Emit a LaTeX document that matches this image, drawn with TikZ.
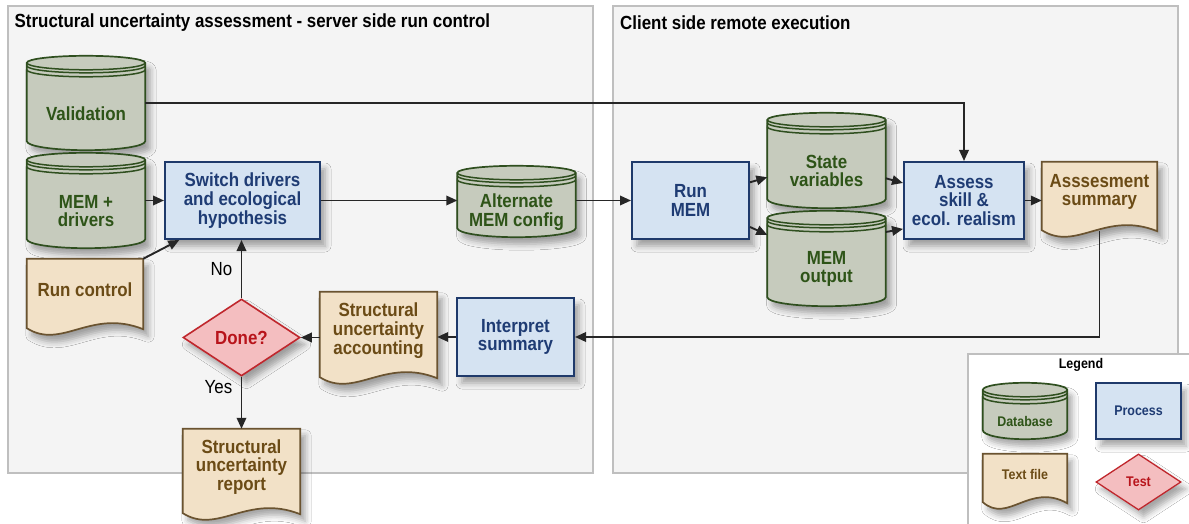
\documentclass[tikz,border=0pt]{standalone}
\usepackage{fontspec}
\usepackage{tikz}
\usetikzlibrary{arrows.meta,shapes.geometric,calc,shadows.blur}

\newfontfamily\diafont[FakeStretch=0.89]{Liberation Sans}

\definecolor{dbfill}{HTML}{C6CBBD}
\definecolor{dbline}{HTML}{2F4F1F}
\definecolor{dbtext}{HTML}{2E5418}
\definecolor{procfill}{HTML}{D5E3F2}
\definecolor{procline}{HTML}{1F3A6B}
\definecolor{proctext}{HTML}{1F3C74}
\definecolor{docfill}{HTML}{F2E1C7}
\definecolor{docline}{HTML}{6A5330}
\definecolor{doctext}{HTML}{6B4B16}
\definecolor{testfill}{HTML}{F4BEC0}
\definecolor{testline}{HTML}{C0272D}
\definecolor{testtext}{HTML}{B8141B}
\definecolor{panelfill}{HTML}{F4F4F4}
\definecolor{panelline}{HTML}{BFBFBF}

\pgfdeclarelayer{panel}
\pgfdeclarelayer{shape}
\pgfsetlayers{panel,shape,main}

\tikzset{
  drop/.style={blur shadow={shadow xshift=5pt,shadow yshift=-7pt,shadow blur radius=6pt,shadow opacity=35}},
  bigtxt/.style={font=\diafont\bfseries\fontsize{19}{18.7}\selectfont},
  smalltxt/.style={font=\diafont\bfseries\fontsize{14}{15}\selectfont},
  boxtxt/.style={bigtxt, align=center, inner sep=0pt, minimum width=117pt},
  dbtxt/.style={boxtxt, text=dbtext, minimum width=118pt},
  doctxt/.style={boxtxt, text=doctext},
  proc/.style={boxtxt, draw=procline, fill=procfill, line width=2pt, text=proctext, minimum height=77pt, drop},
  test/.style={boxtxt, diamond, aspect=1.5, draw=testline, fill=testfill, line width=1.6pt, text=testtext, minimum height=77pt, drop},
  conn/.style={line width=1.9pt, draw=black!85, -{Triangle[length=11pt,width=9.5pt]}},
  yesno/.style={font=\diafont\fontsize{19}{20}\selectfont, text=black},
  ttl/.style={anchor=west, inner sep=0pt, font=\diafont\bfseries\fontsize{19}{20}\selectfont},
}

% cylinder round a named node
\newcommand{\dbshape}[1]{%
  \begin{pgfonlayer}{shape}
    \path[draw=dbline, line width=1.7pt, fill=dbfill, drop]
      let \p1=(#1.north west), \p2=(#1.south east), \n1={0.5*(\x2-\x1)} in
      (\x1,\y1+14pt) -- (\x1,\y2+9pt)
      arc[start angle=180, end angle=360, x radius=\n1, y radius=9pt]
      -- (\x2,\y1+14pt)
      arc[start angle=0, end angle=180, x radius=\n1, y radius=7pt] -- cycle;
    \path[draw=dbline, line width=1.5pt]
      let \p1=(#1.north west), \p2=(#1.south east), \n1={0.5*(\x2-\x1)} in
      (\x1,\y1+14pt) arc[start angle=180, end angle=360, x radius=\n1, y radius=7pt]
      (\x1,\y1+11pt) arc[start angle=180, end angle=360, x radius=\n1, y radius=7pt]
      (\x1,\y1+7pt) arc[start angle=180, end angle=360, x radius=\n1, y radius=7pt];
  \end{pgfonlayer}}

% text file round a named node
\newcommand{\docshape}[1]{%
  \begin{pgfonlayer}{shape}
    \path[draw=docline, line width=1.7pt, fill=docfill, drop]
      (#1.north west) -- ($(#1.south west)+(0,-8)$)
      .. controls ($(#1.south west)!0.3!(#1.south east)+(0,-30)$)
      and ($(#1.south west)!0.55!(#1.south east)+(0,12)$)
      .. ($(#1.south east)+(0,-9)$) -- (#1.north east) -- cycle;
  \end{pgfonlayer}}

\begin{document}
\begin{tikzpicture}[x=1pt,y=1pt]
\useasboundingbox (0,0) rectangle (1189,-524);

\node[ttl] (lefttitle) at (14.5,-23) {Structural uncertainty assessment - server side run control};
\node[ttl] (righttitle) at (620,-23) {Client side remote execution};

% server side
\node[dbtxt, minimum height=73pt] (val) at (86,-113.5) {Validation};
\node[dbtxt, minimum height=74pt] (memdrv) at (86,-211) {MEM +\\drivers};
\node[dbtxt, minimum height=50pt] (altcfg) at (516.5,-212) {Alternate\\MEM config};
\node[proc, minimum width=155pt] (switch) at (242.5,-200.5) {Switch drivers\\and ecological\\hypothesis};
\node[doctxt, minimum width=116pt, minimum height=61pt] (runctl) at (85,-289.5) {Run control};
\node[test] (done) at (241.5,-337.5) {Done?};
\node[doctxt, minimum height=77pt] (account) at (378.5,-330.5) {Structural\\uncertainty\\accounting};
\node[proc, minimum height=78pt] (interp) at (515.5,-337) {Interpret\\summary};
\node[doctxt, minimum height=76pt] (report) at (241.5,-467) {Structural\\uncertainty\\report};

% client side
\node[proc] (runmem) at (690.5,-200.5) {Run\\MEM};
\node[dbtxt, minimum height=74pt] (statev) at (826.5,-171) {State\\variables};
\node[dbtxt, minimum height=74pt] (memout) at (826.5,-269) {MEM\\output};
\node[proc, minimum width=120pt] (assess) at (964,-200.5) {Assess\\skill \&\\ecol. realism};
\node[doctxt, minimum width=115pt, minimum height=60pt] (summary) at (1099.5,-192) {Asssesment\\summary};

% legend
\node[smalltxt] (legtitle) at (1081,-365) {Legend};
\node[dbtxt, smalltxt, minimum width=84pt, minimum height=35pt] (legdb) at (1025,-421.5) {Database};
\node[proc, smalltxt, line width=1.5pt, minimum width=85pt, minimum height=56pt] (legproc) at (1138.5,-411) {Process};
\node[doctxt, smalltxt, minimum width=84pt, minimum height=40pt] (legdoc) at (1025,-474) {Text file};
\node[test, smalltxt, line width=1.3pt, minimum width=85pt, minimum height=56pt] (legtest) at (1138.5,-482) {Test};

\dbshape{val}
\dbshape{memdrv}
\dbshape{altcfg}
\dbshape{statev}
\dbshape{memout}
\dbshape{legdb}
\docshape{runctl}
\docshape{account}
\docshape{report}
\docshape{summary}
\docshape{legdoc}

\draw[conn] (val.10) -| (assess.north);
\draw[conn] (switch.west -| memdrv.east) -- (switch.west);
\draw[conn] (runctl.north east) -- (switch.212);
\draw[conn] (done.north) -- (done.north |- switch.south) node[yesno, midway, left=5pt] (nolabel) {No};
\draw[conn] (switch.east) -- (switch.east -| altcfg.west);
\draw[conn] (runmem.west -| altcfg.east) -- (runmem.west);
\draw[conn] (runmem.17) -- (statev.186);
\draw[conn] (runmem.-24) -- (memout.150);
\draw[conn] (statev.-7) -- (assess.164);
\draw[conn] (memout.32) -- (assess.205);
\draw[conn] (assess.east) -- (assess.east -| summary.west);
\draw[conn, shorten <=9pt] (summary.south) |- (interp.east);
\draw[conn] (interp.west) -- (interp.west -| account.east);
\draw[conn] (done.east -| account.west) -- (done.east);
\draw[conn] (done.south) -- (done.south |- report.north) node[yesno, pos=0.2, left=5pt] (yeslabel) {Yes};

% panels last: no shadow may come after them
\begin{pgfonlayer}{panel}
  \fill[white] (0,0) rectangle (1189,-524);
  \filldraw[fill=panelfill, draw=panelline, line width=1.5pt] (8,-6) rectangle (593,-473);
  \filldraw[fill=panelfill, draw=panelline, line width=1.5pt] (613,-6) rectangle (1178,-473);
  \filldraw[fill=white, draw=panelline, line width=1.5pt] (968,-354) rectangle (1200,-540);
\end{pgfonlayer}
\end{tikzpicture}
\end{document}
